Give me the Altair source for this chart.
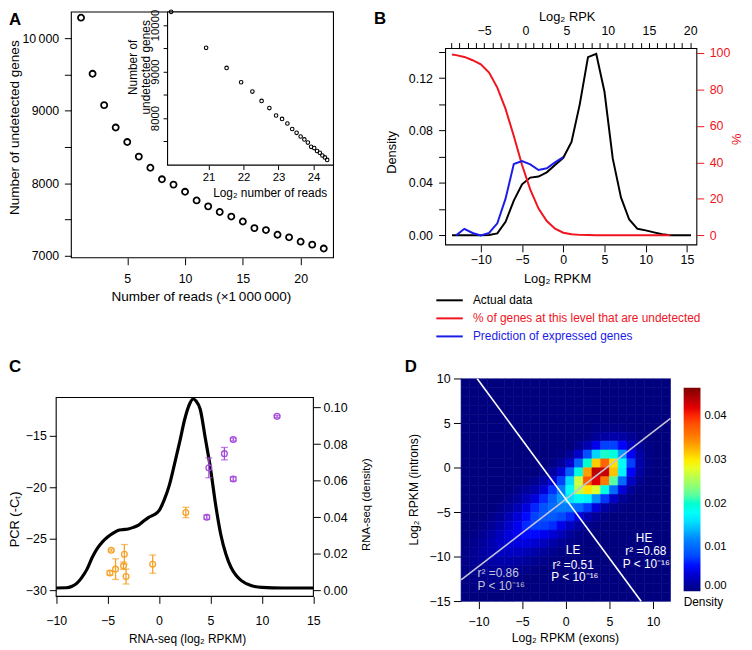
import altair as alt
import numpy as np
import pandas as pd

W, H = 744, 642
OX, OY = 8, 8
FONT = "Liberation Sans"
RED = "#F0141E"
BLUE = "#1C1CE8"
ORANGE = "#F5A128"
PURPLE = "#A448DC"
FITGRAY = "#C4C4D4"

# ======================= data =======================
# ---- Panel A ----
A_READS_M = list(range(1, 23))
A_UNDETECTED = [10284, 9510, 9078, 8769, 8569, 8368, 8214, 8055, 7982, 7883, 7764,
                7682, 7604, 7541, 7473, 7382, 7355, 7291, 7255, 7195, 7154, 7100]

# ---- Panel B ----
B_ACTUAL_X = [-13.5, -13, -12, -11, -10, -9, -8, -7, -6, -5, -4, -3, -2, -1, 0, 1, 2, 3,
              4, 5, 6, 7, 8, 9, 10, 11, 12, 13, 14, 15, 15.5]
B_ACTUAL_Y = [0, 0, 0, 0, 0, 0.0003, 0.0015, 0.0103, 0.0265, 0.039, 0.0441, 0.0449, 0.0481,
              0.0537, 0.0592, 0.0713, 0.100, 0.136, 0.1386, 0.1096, 0.0587, 0.029, 0.0121,
              0.005, 0.0038, 0.0023, 0.0008, 0, 0, 0, 0]
B_UNDET_X = [-13.5, -13, -12, -11, -10, -9, -8, -7, -6, -5, -4, -3, -2, -1, 0, 1, 2, 3, 4,
             6, 8, 10, 13]
B_UNDET_PCT = [99.1, 98.8, 97.8, 96.0, 93.7, 89.2, 81.0, 69.3, 54.4, 38.5, 25.0, 14.6, 7.8,
               3.6, 1.4, 0.5, 0.2, 0.1, 0, 0, 0, 0, 0]
B_PRED_X = [-13, -12, -11, -10, -9, -8, -7, -6, -5, -4, -3, -2, -1, 0]
B_PRED_Y = [0, 0.005, 0.0018, 0, 0.0018, 0.0092, 0.028, 0.0544, 0.0567, 0.0542, 0.0499,
            0.0512, 0.0557, 0.0597]
B_LEGEND = ["Actual data", "% of genes at this level that are undetected",
            "Prediction of expressed genes"]
B_COLORS = ["#000000", RED, BLUE]

# ---- Panel C ----
C_DENS_X = [-10, -9, -8.5, -8, -7.5, -7, -6.5, -6, -5.5, -5, -4.5, -4, -3.5, -3, -2.5, -2,
            -1.5, -1, -0.5, 0, 0.5, 1, 1.5, 2, 2.5, 3, 3.3, 3.6, 4, 4.5, 5, 5.5, 6, 6.5, 7,
            7.5, 8, 9, 10, 12, 15]
C_DENS_Y = [0.0014, 0.0015, 0.0022, 0.0039, 0.0072, 0.0117, 0.018, 0.023, 0.0266, 0.0292,
            0.0312, 0.0328, 0.0333, 0.0336, 0.0345, 0.0357, 0.0380, 0.0400, 0.0414, 0.0436,
            0.0495, 0.0576, 0.069, 0.081, 0.0937, 0.1023, 0.1046, 0.1035, 0.0990, 0.083,
            0.0667, 0.0468, 0.0306, 0.0198, 0.0126, 0.0082, 0.0054, 0.0026, 0.0017, 0.0014,
            0.0014]
C_LOW_X = [-4.65, -4.78, -4.23, -3.37, -3.45, -3.21, -0.62, 2.6]
C_LOW_Y = [-26.1, -28.3, -27.93, -26.5, -27.6, -28.65, -27.45, -22.45]
C_LOW_ERR = [0.1, 0.2, 1.0, 0.95, 0.35, 0.72, 0.88, 0.5]
C_HIGH_X = [4.84, 6.35, 7.21, 7.21, 4.64, 11.47]
C_HIGH_Y = [-18.12, -16.75, -15.38, -19.2, -22.9, -13.14]
C_HIGH_ERR = [0.96, 0.6, 0.15, 0.2, 0.2, 0.1]

# ---- Panel D (density x 1000 on a 1-unit grid; cells not listed are 0) ----
D_X_CENTERS = [-11.5 + i for i in range(24)]
D_Y_CENTERS = [9.5 - i for i in range(25)]
D_ROWS = {
    4.5: (3.5, [0.3, 0.4, 0.4, 0.3]),
    3.5: (2.5, [0.4, 1.1, 1.7, 2.1, 1.8, 1.0, 0.4]),
    2.5: (1.5, [0.8, 2.3, 4.9, 7.6, 7.6, 5.7, 2.8, 1.1, 0.3]),
    1.5: (-0.5, [0.3, 1.0, 3.4, 8.4, 15.3, 20.3, 19.3, 12.6, 5.4, 1.8, 0.4]),
    0.5: (-1.5, [0.4, 1.3, 3.6, 9.7, 20.0, 31.5, 37.0, 30.7, 17.9, 7.5, 2.1, 0.4]),
    -0.5: (-2.5, [0.6, 1.5, 3.8, 9.3, 19.4, 33.5, 43.7, 43.2, 32.0, 16.9, 5.8, 1.6, 0.3]),
    -1.5: (-4.5, [0.3, 0.8, 1.9, 3.9, 7.7, 15.6, 27.0, 37.7, 42.2, 35.3, 22.0, 10.1, 3.3, 0.7]),
    -2.5: (-5.5, [0.6, 1.3, 2.1, 3.9, 6.9, 11.4, 18.1, 26.0, 30.3, 27.6, 19.1, 10.3, 4.1, 1.2, 0.2]),
    -3.5: (-6.5, [0.6, 1.3, 2.6, 4.3, 6.6, 9.5, 12.7, 16.1, 18.1, 17.0, 12.4, 7.2, 3.2, 1.1, 0.3]),
    -4.5: (-7.5, [0.6, 1.3, 2.5, 4.3, 6.5, 8.6, 10.2, 11.3, 11.2, 10.1, 7.3, 4.3, 1.8, 0.7, 0.2]),
    -5.5: (-8.5, [0.6, 1.2, 2.4, 4.0, 5.9, 7.7, 8.9, 9.1, 8.2, 6.6, 4.6, 2.4, 1.2, 0.4]),
    -6.5: (-9.5, [0.5, 1.1, 2.1, 3.5, 5.1, 6.6, 7.5, 7.5, 6.7, 4.9, 3.2, 1.8, 0.8, 0.3]),
    -7.5: (-10.5, [0.4, 0.9, 1.8, 2.9, 4.2, 5.3, 5.9, 5.9, 5.1, 4.0, 2.7, 1.3, 0.6, 0.2]),
    -8.5: (-11.5, [0.3, 0.7, 1.3, 2.3, 3.2, 4.1, 4.4, 4.4, 3.8, 2.9, 1.9, 1.1, 0.5, 0.2]),
    -9.5: (-11.5, [0.4, 0.9, 1.6, 2.3, 3.0, 3.2, 3.1, 2.6, 2.0, 1.3, 0.8, 0.4]),
    -10.5: (-11.5, [0.5, 0.9, 1.4, 1.9, 2.1, 2.1, 1.8, 1.3, 0.8, 0.5, 0.2]),
    -11.5: (-11.5, [0.4, 0.7, 1.0, 1.2, 1.3, 1.1, 0.8, 0.5, 0.3]),
    -12.5: (-11.5, [0.3, 0.5, 0.6, 0.6, 0.6, 0.4, 0.3]),
    -13.5: (-11.5, [0.1, 0.2, 0.3, 0.3, 0.2]),
}
D_FIT_X = [-12, 12]
D_FIT_Y = [-12.6, 5.54]
D_SPLIT_X = [-10.15, 8.63]
D_SPLIT_Y = [10, -15]
D_ANN_TEXT = ["LE", "r\u00b2 =0.51", "P < 10\u207b\u00b9\u2076", "HE", "r\u00b2 =0.68",
              "P < 10\u207b\u00b9\u2076"]
D_ANN_X = [0.84, 0.84, 1.04, 8.97, 9.17, 9.23]
D_ANN_Y = [-9.27, -10.89, -12.3, -7.86, -9.33, -10.82]
D_ANN2_TEXT = ["r\u00b2 =0.86", "P < 10\u207b\u00b9\u2076"]
D_ANN2_X = [-10.11, -10.11]
D_ANN2_Y = [-11.8, -13.3]
JET = ["#00007F", "#0000FF", "#007FFF", "#00FFFF", "#7FFF7F", "#FFFF00", "#FF7F00",
       "#FF0000", "#7F0000"]
JET_STOPS = [0.0, 0.0058, 0.0117, 0.0175, 0.0233, 0.0291, 0.035, 0.0408, 0.0466]
JET_STOPS_MILLI = [0.0, 5.8, 11.7, 17.5, 23.3, 29.1, 35.0, 40.8, 46.6]


# ======================= helpers =======================
def xs(dom, left, right):
    return alt.Scale(domain=dom, range=[left - OX, right - OX], nice=False, zero=False)


def ys(dom, bottom, top):
    return alt.Scale(domain=dom, range=[bottom - OY, top - OY], nice=False, zero=False)


def ax(orient, at, values, title="", tpos=None, tick=7.0, pad=5.0, fs=12.5, tfs=13,
       color="black", **kw):
    if orient == "left":
        off = -(at - OX)
    elif orient == "right":
        off = (at - OX) - W
    elif orient == "bottom":
        off = (at - OY) - H
    else:
        off = -(at - OY)
    a = dict(orient=orient, offset=off, values=values, tickSize=tick, labelPadding=pad,
             grid=False, domain=False, ticks=True, labelFlush=False, labelOverlap=False,
             labelFont=FONT, labelFontSize=fs, labelColor=color, tickColor=color,
             tickWidth=1, title=title, titleFont=FONT, titleFontSize=tfs,
             titleFontWeight="normal", titleColor=color)
    if orient in ("bottom", "top"):
        a["labelBaseline"] = "middle"
        a["labelAlign"] = "center"
    if title and tpos:
        tx, ty = tpos
        if orient in ("left", "right"):
            a["titleX"] = tx - at
            a["titleY"] = ty - OY
            a["titleAngle"] = 270
        else:
            a["titleX"] = tx - OX
            a["titleY"] = ty - at
            a["titleAngle"] = 0
        a["titleAlign"] = "center"
        a["titleBaseline"] = "middle"
    a.update(kw)
    return alt.Axis(**a)


def frame(xsc, xd, ysc, yd, xaxis=None, yaxis=None, fill="transparent", stroke="black", sw=1.1):
    df = pd.DataFrame({"x0": [xd[0]], "x1": [xd[1]], "y0": [yd[0]], "y1": [yd[1]]})
    return alt.Chart(df).mark_rect(fill=fill, stroke=stroke, strokeWidth=sw).encode(
        x=alt.X("x0:Q", scale=xsc, axis=xaxis), x2=alt.X2("x1"),
        y=alt.Y("y0:Q", scale=ysc, axis=yaxis), y2=alt.Y2("y1"))


ONE = pd.DataFrame({"k": [0]})


def note(txt, x, y, size=13, weight="normal", color="black", align="center",
         baseline="middle"):
    return alt.Chart(ONE).mark_text(text=txt, font=FONT, fontSize=size, fontWeight=weight,
                                    color=color, align=align, baseline=baseline).encode(
        x=alt.value(x - OX), y=alt.value(y - OY))


layers = []

# ======================= Panel A =======================
A_XD, A_YD = [0.16, 22.84], [6973, 10363]
A_XS = xs(A_XD, 72, 337)
A_YS = ys(A_YD, 257, 8.5)
I_XD, I_YD = [19.83, 24.57], [6989, 10281]
I_XS = xs(I_XD, 169.3, 337)
I_YS = ys(I_YD, 163.3, 8.5)

a_df = pd.DataFrame({"reads": A_READS_M, "undetected": A_UNDETECTED})
a_df["log2reads"] = np.log2(a_df["reads"] * 1e6)

layers.append(frame(
    A_XS, A_XD, A_YS, A_YD,
    xaxis=ax("bottom", 257, [5, 10, 15, 20], "Number of reads (\u00d71\u2009000\u2009000)",
             (203, 296.7), tick=7, pad=13.7, fs=12.5, tfs=13.7),
    yaxis=ax("left", 72, [7000, 7500, 8000, 8500, 9000, 9500, 10000],
             "Number of undetected genes", (14.5, 125), tick=7, pad=5.7, fs=12.5, tfs=13.7,
             labelExpr="datum.value % 1000 == 0 ? (datum.value >= 10000 ? '10\u2009000' : format(datum.value, 'd')) : ''")))
layers.append(alt.Chart(a_df).mark_point(shape="circle", filled=False, size=38, strokeWidth=1.8,
                                         color="black", opacity=1).encode(
    x=alt.X("reads:Q", scale=A_XS, axis=None), y=alt.Y("undetected:Q", scale=A_YS, axis=None)))
layers.append(frame(
    I_XS, I_XD, I_YS, I_YD, fill="white",
    xaxis=ax("bottom", 163.3, [21, 22, 23, 24], "Log\u2082 number of reads", (272.5, 190.7),
             tick=4.5, pad=8.4, fs=11.5, tfs=12),
    yaxis=ax("left", 169.3, [7500, 8000, 8500, 9000, 9500, 10000], ["Number of", "undetected genes"],
             (134, 64), tick=4.5, pad=7.6, fs=11.5, tfs=12, labelAngle=270, labelAlign="center",
             labelBaseline="middle", titleLineHeight=13,
             labelExpr="datum.value % 1000 == 0 ? format(datum.value, 'd') : ''")))
layers.append(alt.Chart(a_df).mark_point(shape="circle", filled=False, size=13, strokeWidth=1.1,
                                         color="black", opacity=1).encode(
    x=alt.X("log2reads:Q", scale=I_XS, axis=None), y=alt.Y("undetected:Q", scale=I_YS, axis=None)))
layers.append(note("A", 9, 21.5, size=17, weight="bold", align="left", baseline="alphabetic"))

# ======================= Panel B =======================
B_XD, B_XTD = [-14.28, 16.2], [-9.68, 20.8]
B_YD, B_YRD = [-0.0073, 0.1426], [-5.3, 102.4]
B_XS = xs(B_XD, 450.3, 704.3)
B_XT = xs(B_XTD, 450.3, 704.3)
B_YL = ys(B_YD, 244, 45.5)
B_YR = ys(B_YRD, 244, 45.5)

layers.append(frame(
    B_XT, B_XTD, B_YL, B_YD,
    xaxis=ax("top", 45.5, list(range(-9, 21)), "Log\u2082 RPK", (572.7, 13), tick=6, pad=12.3,
             labelExpr="datum.value % 5 == 0 ? format(datum.value, 'd') : ''"),
    yaxis=ax("left", 450.3, [0, 0.02, 0.04, 0.06, 0.08, 0.10, 0.12, 0.14], "Density", (396, 150),
             tick=7, pad=6.3,
             labelExpr="round(datum.value * 100) % 4 == 0 ? format(datum.value, '.2f') : ''")))
b_act = pd.DataFrame({"x": B_ACTUAL_X, "y": B_ACTUAL_Y})
b_und = pd.DataFrame({"x": B_UNDET_X, "y": B_UNDET_PCT})
b_pred = pd.DataFrame({"x": B_PRED_X, "y": B_PRED_Y})
layers.append(alt.Chart(b_act).mark_line(color="black", strokeWidth=2).encode(
    x=alt.X("x:Q", scale=B_XS, axis=ax("bottom", 244, [-10, -5, 0, 5, 10, 15], "Log\u2082 RPKM",
                                       (563, 278.3), tick=7, pad=7.3)),
    y=alt.Y("y:Q", scale=B_YL, axis=None)))
layers.append(alt.Chart(b_und).mark_line(color=RED, strokeWidth=2).encode(
    x=alt.X("x:Q", scale=B_XS, axis=None),
    y=alt.Y("y:Q", scale=B_YR, axis=ax("right", 704.3, [0, 20, 40, 60, 80, 100], "%",
                                       (744.3, 136.7), tick=7, pad=5.5, color=RED))))
layers.append(alt.Chart(b_pred).mark_line(color=BLUE, strokeWidth=2).encode(
    x=alt.X("x:Q", scale=B_XS, axis=None), y=alt.Y("y:Q", scale=B_YL, axis=None)))
leg_df = pd.DataFrame({"label": B_LEGEND})
leg_y = alt.Y("label:N", scale=alt.Scale(type="point", domain=B_LEGEND,
                                         range=[300 - OY, 336.5 - OY], padding=0), axis=None)
leg_c = alt.Color("label:N", scale=alt.Scale(domain=B_LEGEND, range=B_COLORS), legend=None)
layers.append(alt.Chart(leg_df).mark_rule(strokeWidth=2).encode(
    x=alt.value(441 - OX), x2=alt.value(467.7 - OX), y=leg_y, color=leg_c))
layers.append(alt.Chart(leg_df).mark_text(align="left", baseline="middle", font=FONT,
                                          fontSize=12).encode(
    x=alt.value(478 - OX), y=leg_y, text="label:N", color=leg_c))
layers.append(note("B", 378, 21, size=17, weight="bold", align="left", baseline="alphabetic"))

# ======================= Panel C =======================
C_XD, C_YD, C_YRD = [-10, 15], [-30.57, -11.32], [-0.0032, 0.1054]
C_XS = xs(C_XD, 56.7, 316.7)
C_YL = ys(C_YD, 599.3, 398.3)
C_YR = ys(C_YRD, 599.3, 398.3)

layers.append(frame(
    C_XS, C_XD, C_YL, C_YD,
    xaxis=ax("bottom", 599.3, [-10, -5, 0, 5, 10, 15], "RNA-seq (log\u2082 RPKM)", (189, 641.7),
             tick=7, pad=17, tfs=12),
    yaxis=ax("left", 56.7, [-30, -25, -20, -15], "PCR (-C\u209c)", (15, 521), tick=7, pad=3)))
c_dens = pd.DataFrame({"x": C_DENS_X, "y": C_DENS_Y})
layers.append(alt.Chart(c_dens).mark_line(color="black", strokeWidth=3.2,
                                          interpolate="monotone").encode(
    x=alt.X("x:Q", scale=C_XS, axis=None),
    y=alt.Y("y:Q", scale=C_YR, axis=ax("right", 316.7, [0, 0.02, 0.04, 0.06, 0.08, 0.10],
                                       "RNA-seq (density)", (370, 506), tick=7, pad=2.7,
                                       tfs=11.5, format=".2f"))))

for xs_, ys_, es_, col in [(C_LOW_X, C_LOW_Y, C_LOW_ERR, ORANGE),
                           (C_HIGH_X, C_HIGH_Y, C_HIGH_ERR, PURPLE)]:
    pts = pd.DataFrame({"x": xs_, "y": ys_, "err": es_})
    pts["lo"] = pts["y"] - pts["err"]
    pts["hi"] = pts["y"] + pts["err"]
    caps = pd.concat([pts[["x", "lo"]].rename(columns={"lo": "yc"}),
                      pts[["x", "hi"]].rename(columns={"hi": "yc"})])
    layers.append(alt.Chart(pts).mark_rule(color=col, strokeWidth=1.3).encode(
        x=alt.X("x:Q", scale=C_XS, axis=None), y=alt.Y("lo:Q", scale=C_YL, axis=None),
        y2=alt.Y2("hi")))
    layers.append(alt.Chart(caps).mark_tick(orient="horizontal", size=7, thickness=1.3,
                                            color=col).encode(
        x=alt.X("x:Q", scale=C_XS, axis=None), y=alt.Y("yc:Q", scale=C_YL, axis=None)))
    layers.append(alt.Chart(pts).mark_point(shape="circle", filled=False, size=34,
                                            strokeWidth=1.3, color=col, opacity=1).encode(
        x=alt.X("x:Q", scale=C_XS, axis=None), y=alt.Y("y:Q", scale=C_YL, axis=None)))
layers.append(note("C", 9, 372, size=17, weight="bold", align="left", baseline="alphabetic"))

# ======================= Panel D =======================
D_XD, D_YD = [-12, 12], [-15, 10]
D_XS = xs(D_XD, 466, 677.7)
D_YS = ys(D_YD, 604.3, 379.3)

cells = []
for yc in D_Y_CENTERS:
    row = [0.0] * len(D_X_CENTERS)
    if yc in D_ROWS:
        x0, vals = D_ROWS[yc]
        i0 = D_X_CENTERS.index(x0)
        for k, v in enumerate(vals):
            row[i0 + k] = v
    for xc, v in zip(D_X_CENTERS, row):
        cells.append({"x0": xc - 0.5, "x1": xc + 0.5, "y0": yc - 0.5, "y1": yc + 0.5,
                      "density": v / 1000.0, "milli": v})
d_df = pd.DataFrame(cells)

layers.append(alt.Chart(d_df).mark_rect(strokeWidth=0.6).encode(
    x=alt.X("x0:Q", scale=D_XS, axis=ax("bottom", 604.3, [-10, -5, 0, 5, 10],
                                        "Log\u2082 RPKM (exons)", (571, 640.7), tick=7.3,
                                        pad=13.4, tfs=12.3)),
    x2=alt.X2("x1"),
    y=alt.Y("y0:Q", scale=D_YS, axis=ax("left", 466, [-15, -10, -5, 0, 5, 10],
                                        "Log\u2082 RPKM (introns)", (417.7, 491), tick=7.7,
                                        pad=3.4, tfs=12.3)),
    y2=alt.Y2("y1"),
    color=alt.Color("density:Q", scale=alt.Scale(domain=JET_STOPS, range=JET, nice=False,
                                                  zero=False),
                    legend=alt.Legend(type="gradient", orient="none", legendX=691 - OX,
                                      legendY=388.3 - OY,
                                      direction="vertical", gradientLength=205.7,
                                      gradientThickness=17, gradientStrokeWidth=0,
                                      title="Density", titleOrient="bottom",
                                      titleAnchor="start", titlePadding=6, titleFont=FONT,
                                      titleFontSize=12, titleFontWeight="normal",
                                      titleColor="black", labelFont=FONT, labelFontSize=11.5,
                                      labelColor="black", labelOffset=4,
                                      values=[0, 0.01, 0.02, 0.03, 0.04], format=".2f",
                                      labelOverlap=False)),
    stroke=alt.Stroke("milli:Q", scale=alt.Scale(domain=JET_STOPS_MILLI, range=JET, nice=False,
                                                  zero=False), legend=None)))
d_lines = pd.DataFrame({"x": D_FIT_X + D_SPLIT_X, "y": D_FIT_Y + D_SPLIT_Y,
                        "line": ["fit", "fit", "split", "split"]})
layers.append(alt.Chart(d_lines).mark_line(strokeWidth=1.6).encode(
    x=alt.X("x:Q", scale=D_XS, axis=None), y=alt.Y("y:Q", scale=D_YS, axis=None),
    color=alt.Color("line:N", scale=alt.Scale(domain=["fit", "split"], range=[FITGRAY, "white"]),
                    legend=None)))
d_ann = pd.DataFrame({"t": D_ANN_TEXT, "x": D_ANN_X, "y": D_ANN_Y})
layers.append(alt.Chart(d_ann).mark_text(font=FONT, fontSize=12, color="white", align="center",
                                         baseline="middle").encode(
    x=alt.X("x:Q", scale=D_XS, axis=None), y=alt.Y("y:Q", scale=D_YS, axis=None), text="t:N"))
d_ann2 = pd.DataFrame({"t": D_ANN2_TEXT, "x": D_ANN2_X, "y": D_ANN2_Y})
layers.append(alt.Chart(d_ann2).mark_text(font=FONT, fontSize=12, color=FITGRAY, align="left",
                                          baseline="middle").encode(
    x=alt.X("x:Q", scale=D_XS, axis=None), y=alt.Y("y:Q", scale=D_YS, axis=None), text="t:N"))
layers.append(note("D", 409, 372, size=17, weight="bold", align="left", baseline="alphabetic"))

chart = alt.layer(*layers).resolve_scale(
    x="independent", y="independent", color="independent", stroke="independent"
).properties(
    width=W, height=H, padding=0, autosize=alt.AutoSizeParams(type="none")
).configure_view(stroke="transparent")

chart.save("out.html", embed_options={"renderer": "svg", "actions": False})
